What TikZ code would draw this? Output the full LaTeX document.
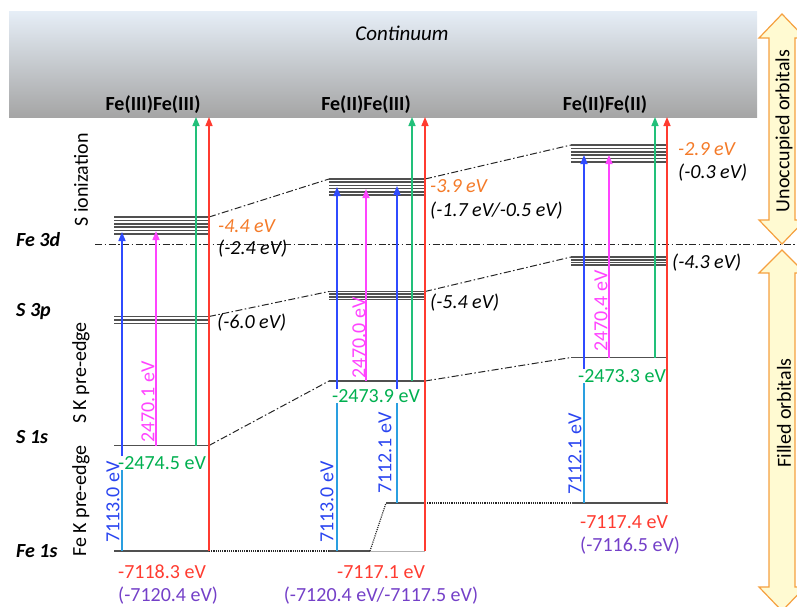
\documentclass[tikz,border=0pt]{standalone}
\usepackage{fontspec}
\setmainfont{Carlito}
\usetikzlibrary{arrows.meta}
\definecolor{lvl}{HTML}{505050}
\definecolor{ablue}{HTML}{2F4BFF}
\definecolor{acyan}{HTML}{2A9FE0}
\definecolor{amag}{HTML}{FF44FF}
\definecolor{agreen}{HTML}{22C07A}
\definecolor{tgreen}{HTML}{00B050}
\definecolor{ared}{HTML}{FF3B30}
\definecolor{torange}{HTML}{F47A28}
\definecolor{tpurple}{HTML}{7440C8}
\definecolor{tblue}{HTML}{2A45F0}
\definecolor{contTop}{HTML}{E6EEF7}
\definecolor{contBot}{HTML}{A5A5A5}
\definecolor{arrEdge}{HTML}{F5A040}
\definecolor{arrFill}{HTML}{FFFAD2}
\begin{document}
\begin{tikzpicture}[x=1pt,y=-1pt,
  txt/.style={font=\fontsize{20}{24}\selectfont, inner sep=0pt},
  lvline/.style={draw=lvl, line width=1.6pt},
  link/.style={draw=black!85, line width=1pt, dash pattern=on 7pt off 2.5pt on 1.5pt off 2.5pt},
  dotlink/.style={draw=black!85, line width=1.2pt, dash pattern=on 1.1pt off 1.1pt},
  tr/.style={line width=1.5pt},
  tip/.style={-{Triangle[length=9pt,width=7pt]}},
  rot/.style={txt, rotate=90},
  eng/.style={txt, anchor=base west, font=\fontsize{20}{24}\selectfont\itshape},
  side/.style={txt, anchor=base west, font=\fontsize{20}{24}\selectfont\bfseries\itshape},
  edge label/.style={txt, fill=white, inner sep=0.5pt, text=tgreen},
  bigarrow/.style={draw=arrEdge, fill=arrFill, line width=1.2pt, line join=miter}
]
\clip (0,0) rectangle (797,606);
\useasboundingbox (0,0) rectangle (797,606);

% continuum band
\shade[top color=contTop, bottom color=contBot] (9,11) rectangle (757,117);
\node[txt, font=\fontsize{21}{24}\selectfont\itshape] (cont) at (402,33) {Continuum};
\node[txt, anchor=base, font=\fontsize{20}{24}\selectfont\bfseries] (h1) at (153,110) {Fe(III)Fe(III)};
\node[txt, anchor=base, font=\fontsize{20}{24}\selectfont\bfseries] (h2) at (366,110) {Fe(II)Fe(III)};
\node[txt, anchor=base, font=\fontsize{20}{24}\selectfont\bfseries] (h3) at (605,110) {Fe(II)Fe(II)};

% side labels
\node[side] (l3d) at (16,246) {Fe 3d};
\node[side] (l3p) at (16,316) {S 3p};
\node[side] (l1s) at (16,443) {S 1s};
\node[side] (lfe1s) at (16,557) {Fe 1s};
\node[rot] (rion) at (81,180) {S ionization};
\node[rot] (rspre) at (81,373) {S K pre-edge};
\node[rot] (rfepre) at (81,501) {Fe K pre-edge};

% Fe 3d reference line
\coordinate (fe3dL) at (95,244);
\coordinate (fe3dR) at (797,244);
\draw[link] (fe3dL) -- (fe3dR);

% ---- energy levels ----
% column 1
\foreach \y in {217,220.4,223.8,227.2,230.6,234} \draw[lvline] (114,\y) -- (209,\y);
\foreach \y in {316.5,320,323.5} \draw[lvline] (114,\y) -- (209,\y);
\coordinate (a3dL) at (114,217); \coordinate (a3dR) at (209,217);
\coordinate (a3pL) at (114,316.5); \coordinate (a3pR) at (209,316.5);
\coordinate (a1sL) at (114,445.5); \coordinate (a1sR) at (209,445.5);
\coordinate (afeL) at (114,551); \coordinate (afeR) at (209,551);
\draw[lvline] (a1sL) -- (a1sR);
\draw[lvline] (afeL) -- (afeR);
% column 2
\foreach \y in {179,182.2,185.4,188.6,191.8,195} \draw[lvline] (329,\y) -- (425,\y);
\foreach \y in {291.5,294.2,296.9,299.6} \draw[lvline] (329,\y) -- (425,\y);
\coordinate (b3dL) at (329,179); \coordinate (b3dR) at (425,179);
\coordinate (b3pL) at (329,291.5); \coordinate (b3pR) at (425,291.5);
\coordinate (b1sL) at (329,381); \coordinate (b1sR) at (425,381);
\coordinate (bfeL) at (329,551); \coordinate (bfeM) at (370,551); \coordinate (bfeR) at (425,551);
\coordinate (bfe2L) at (386,503); \coordinate (bfe2R) at (425,503);
\draw[lvline] (b1sL) -- (b1sR);
\draw[lvline] (bfeL) -- (bfeM);
\draw[draw=black!30, line width=1pt] (bfeM) -- (bfeR);
\draw[lvline] (bfe2L) -- (bfe2R);
% column 3
\foreach \y in {145,148.4,151.8,155.2,158.6,162} \draw[lvline] (571,\y) -- (667,\y);
\foreach \y in {257,259.7,262.4,265.1} \draw[lvline] (571,\y) -- (667,\y);
\coordinate (c3dL) at (571,145); \coordinate (c3dR) at (667,145);
\coordinate (c3pL) at (571,257); \coordinate (c3pR) at (667,257);
\coordinate (c1sL) at (571,357.5); \coordinate (c1sR) at (667,357.5);
\coordinate (cfeL) at (572,503); \coordinate (cfeR) at (668,503);
\draw[lvline] (c1sL) -- (c1sR);
\draw[lvline] (cfeL) -- (cfeR);

% ---- correlation lines ----
\draw[link] (a3dR) -- (b3dL);
\draw[link] (b3dR) -- (c3dL);
\draw[link] (a3pR) -- (b3pL);
\draw[link] (b3pR) -- (c3pL);
\draw[link] (a1sR) -- (b1sL);
\draw[link] (b1sR) -- (c1sL);
\draw[dotlink] (afeR) -- (bfeL);
\draw[dotlink] (bfeM) -- (bfe2L);
\draw[dotlink] (bfe2R) -- (cfeL);

% ---- transitions ----
% column 1
\draw[tr, acyan] (122,551) -- (122,463);
\draw[tr, ablue, tip] (122,463) -- (122,232);
\draw[tr, amag, tip] (156,445.5) -- (156,231);
\draw[tr, agreen, tip] (196,445.5) -- (196,117);
\draw[tr, ared, tip] (209,551) -- (209,117);
% column 2
\draw[tr, acyan] (337,551) -- (337,396);
\draw[tr, ablue, tip] (337,396) -- (337,187);
\draw[tr, amag, tip] (366,381) -- (366,189);
\draw[tr, acyan] (397,503) -- (397,396);
\draw[tr, ablue, tip] (397,396) -- (397,186);
\draw[tr, agreen, tip] (412,381) -- (412,117);
\draw[tr, ared, tip] (425,551) -- (425,117);
% column 3
\draw[tr, acyan] (584,503) -- (584,376);
\draw[tr, ablue, tip] (584,376) -- (584,155);
\draw[tr, amag, tip] (609,357.5) -- (609,155);
\draw[tr, agreen, tip] (655,357.5) -- (655,117);
\draw[tr, ared, tip] (667,503) -- (667,117);

% S 1s binding energies
\node[edge label] (e1) at (162,463) {-2474.5 eV};
\node[edge label] (e2) at (376,396) {-2473.9 eV};
\node[edge label] (e3) at (622,376) {-2473.3 eV};

% transition energies
\node[rot, text=amag] (m1) at (148,402) {2470.1 eV};
\node[rot, text=amag] (m2) at (359,338) {2470.0 eV};
\node[rot, text=amag] (m3) at (601,311) {2470.4 eV};
\node[rot, text=tblue] (k1) at (113,502) {7113.0 eV};
\node[rot, text=tblue] (k2) at (327,502) {7113.0 eV};
\node[rot, text=tblue] (k3) at (385,453) {7112.1 eV};
\node[rot, text=tblue] (k4) at (575,454) {7112.1 eV};

% level energies
\node[eng, text=torange] (o1) at (218,232) {-4.4 eV};
\node[eng] (g1) at (218,254) {(-2.4 eV)};
\node[eng] (p1) at (217,328) {(-6.0 eV)};
\node[eng, text=torange] (o2) at (430,192) {-3.9 eV};
\node[eng] (g2) at (430,216) {(-1.7 eV/-0.5 eV)};
\node[eng] (p2) at (430,308) {(-5.4 eV)};
\node[eng, text=torange] (o3) at (678,155) {-2.9 eV};
\node[eng] (g3) at (678,178) {(-0.3 eV)};
\node[eng] (p3) at (672,268) {(-4.3 eV)};

% Fe 1s energies
\node[txt, anchor=base west, text=ared] (f1) at (118,578) {-7118.3 eV};
\node[txt, anchor=base west, text=tpurple] (q1) at (118,601) {(-7120.4 eV)};
\node[txt, anchor=base, text=ared] (f2) at (381,578) {-7117.1 eV};
\node[txt, anchor=base, text=tpurple] (q2) at (381,601) {(-7120.4 eV/-7117.5 eV)};
\node[txt, anchor=base west, text=ared] (f3) at (580,528) {-7117.4 eV};
\node[txt, anchor=base west, text=tpurple] (q3) at (580,551) {(-7116.5 eV)};

% occupied / unoccupied double arrows
\draw[bigarrow] (782,14) -- (805,38) -- (795,38) -- (795,220) -- (805,220) -- (782,244)
  -- (759,220) -- (769,220) -- (769,38) -- (759,38) -- cycle;
\draw[bigarrow] (782,250) -- (805,273) -- (795,273) -- (795,587) -- (805,587) -- (782,611)
  -- (759,587) -- (769,587) -- (769,273) -- (759,273) -- cycle;
\node[rot] (unocc) at (784,131) {Unoccupied orbitals};
\node[rot] (filled) at (784,413) {Filled orbitals};
\end{tikzpicture}
\end{document}
